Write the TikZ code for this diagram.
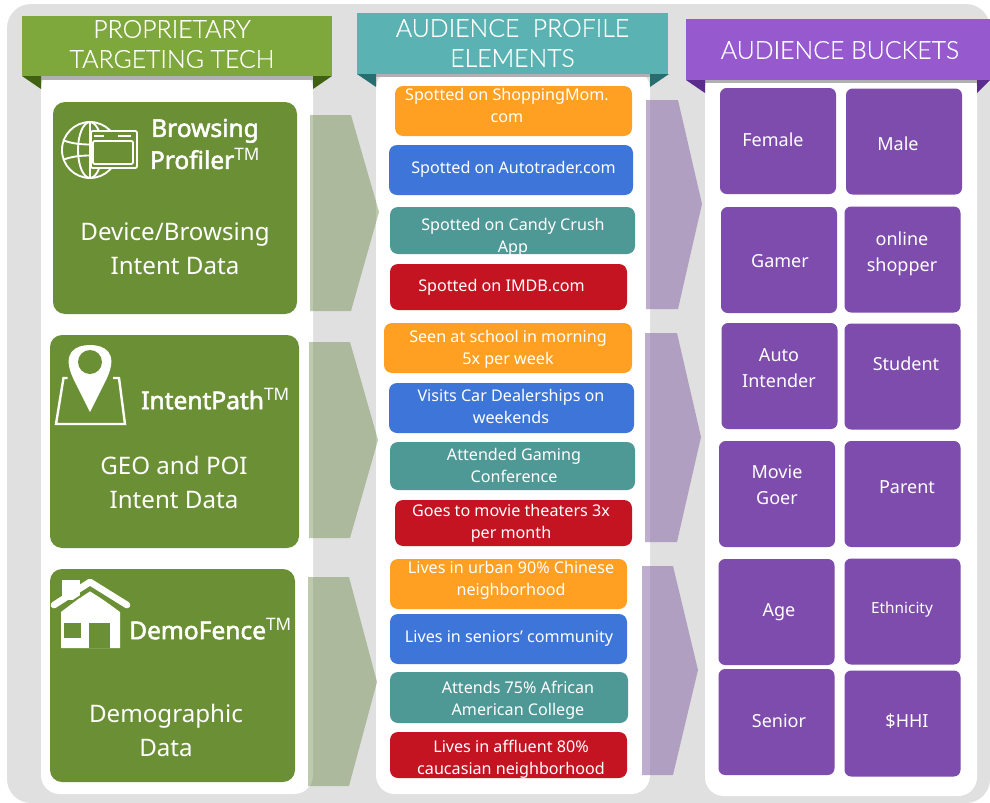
\documentclass[tikz,border=0pt]{standalone}
\usepackage{fontspec}
\setmainfont{Noto Sans}
\newfontfamily\headfont{Lato Light}[FakeBold=0.5]
\newfontfamily\namefont{Noto Sans}[FakeBold=2.2]
\definecolor{backgray}{HTML}{E0E0E0}
\definecolor{shadegray}{HTML}{B0B0B0}
\definecolor{greenhead}{HTML}{7EA83C}
\definecolor{greenfold}{HTML}{3F6212}
\definecolor{greenbox}{HTML}{6B8F35}
\definecolor{tealhead}{HTML}{5AB2B2}
\definecolor{tealfold}{HTML}{266E70}
\definecolor{purplehead}{HTML}{965ACE}
\definecolor{purplefold}{HTML}{5A2C8C}
\definecolor{bucketfill}{HTML}{7E4CAC}
\definecolor{orangefill}{HTML}{FFA023}
\definecolor{bluefill}{HTML}{3D76D8}
\definecolor{tealfill}{HTML}{4E9896}
\definecolor{redfill}{HTML}{C41422}
\definecolor{greenarrow}{HTML}{6F8A4C}
\definecolor{purplearrow}{HTML}{8B6AA8}
\tikzset{
  size/.style 2 args={minimum width=#1*0.75pt,minimum height=#2*0.75pt},
  plate/.style={inner sep=0pt,text=white,align=center},
  head/.style={plate,rectangle},
  headtext/.style={plate,font=\headfont\fontsize{18.6}{22.5}\selectfont},
  techbox/.style={plate,fill=greenbox,rounded corners=9pt},
  techname/.style={plate,font=\namefont\fontsize{18.4}{24}\selectfont},
  techtext/.style={plate,font=\fontsize{18.1}{25.5}\selectfont},
  elementbox/.style={plate,rounded corners=6pt},
  elementtext/.style={plate,font=\fontsize{12.1}{16.5}\selectfont},
  bucket/.style={plate,fill=bucketfill,rounded corners=5pt,size={116}{106}},
  buckettext/.style={plate,font=\fontsize{13.5}{19.5}\selectfont},
  icon/.style={draw=white,line width=1.4pt}
}
\begin{document}
\begin{tikzpicture}[x=0.75pt,y=-0.75pt]
\useasboundingbox (0,0) rectangle (990,803);
\fill[backgray,rounded corners=18pt] (7,4) rectangle (990,803);
% white columns
\fill[white,rounded corners=14pt] (41,70) rectangle (313,794);
\fill[white,rounded corners=14pt] (376,70) rectangle (650,794);
\fill[white,rounded corners=14pt] (705,70) rectangle (977,796);
% left column
\node[techbox,size={244}{212}] (browsebox) at (175,208) {};
\node[techbox,size={249}{213}] (pathbox) at (174.5,441.5) {};
\node[techbox,size={245}{213}] (fencebox) at (172.5,675.5) {};
\node[techname] (browsename) at (205,144) {Browsing\\Profiler\textsuperscript{\normalfont TM}};
\node[techtext] (browsetext) at (175,248.5) {Device/Browsing\\Intent Data};
\node[techname] (pathname) at (215.5,399) {IntentPath\textsuperscript{\normalfont TM}};
\node[techtext] (pathtext) at (174,482.5) {GEO and POI\\Intent Data};
\node[techname] (fencename) at (210.5,629) {DemoFence\textsuperscript{\normalfont TM}};
\node[techtext] (fencetext) at (166,730.5) {Demographic\\Data};
% globe and window
\draw[icon] (90,150) circle[radius=28];
\draw[icon] (90,150) ellipse[x radius=12,y radius=28];
\draw[icon] (90,122) -- (90,178);
\draw[icon] (63,140) .. controls (75,146) and (105,146) .. (117,140);
\draw[icon] (63,160) .. controls (75,154) and (105,154) .. (117,160);
\draw[icon,fill=greenbox,rounded corners=1pt] (91,131) rectangle (137,168);
\draw[icon,rounded corners=1pt] (93,141) rectangle (133,164);
\draw[icon,line width=1pt] (94,136) -- (104,136) (118,136) -- (131,136);
% pin and map
\draw[white,line width=1.8pt] (67.5,378) -- (63.5,378) -- (56,424) -- (125,424) -- (119,378) -- (113,378);
\fill[white] (90,412) -- (73,378) .. controls (61,352) and (76,345) .. (90,345) .. controls (104,345) and (119,352) .. (107,378) -- cycle;
\fill[greenbox] (90,362) circle[radius=12];
% house
\fill[white] (62,580) rectangle (80,600);
\fill[white] (61,612) -- (90,590) -- (120,612) -- (120,648) -- (61,648) -- cycle;
\draw[white,line width=5pt,line cap=round,line join=round] (54,605) -- (90,582) -- (127,605);
\draw[greenbox,line width=1.5pt] (90,590) -- (61,609);
\draw[greenbox,line width=1.5pt] (90,590) -- (120,609);
\fill[greenbox] (64,623) rectangle (81,638);
\fill[greenbox] (89,623) rectangle (110,648);
% arrows out of the left column
\fill[greenarrow,opacity=0.45] (310,115) -- (351,115) -- (379,212) -- (351,311) -- (310,311) -- cycle;
\fill[greenarrow,opacity=0.45] (309,342) -- (350,342) -- (378,440) -- (350,538) -- (309,538) -- cycle;
\fill[greenarrow,opacity=0.45] (308,577) -- (349,577) -- (377,682) -- (349,786) -- (308,786) -- cycle;
% middle column
\node[elementbox,fill=orangefill,size={237}{50}] (momfill) at (513.5,111) {};
\node[elementbox,fill=bluefill,size={244}{50}] (autofill) at (511,170) {};
\node[elementbox,fill=tealfill,size={245}{47}] (candyfill) at (512.5,230.5) {};
\node[elementbox,fill=redfill,size={237}{46}] (imdbfill) at (508.5,287) {};
\node[elementbox,fill=orangefill,size={248}{50}] (schoolfill) at (508,348) {};
\node[elementbox,fill=bluefill,size={245}{50}] (dealerfill) at (511.5,408) {};
\node[elementbox,fill=tealfill,size={245}{48}] (gamingfill) at (512.5,466) {};
\node[elementbox,fill=redfill,size={237}{46}] (moviefill) at (513.5,523) {};
\node[elementbox,fill=orangefill,size={237}{50}] (urbanfill) at (508.5,584) {};
\node[elementbox,fill=bluefill,size={237}{50}] (seniorsfill) at (508.5,639) {};
\node[elementbox,fill=tealfill,size={238}{51}] (collegefill) at (509,697.5) {};
\node[elementbox,fill=redfill,size={237}{46}] (affluentfill) at (508.5,755) {};
\node[elementtext] (mom) at (507,105) {Spotted on ShoppingMom.\\com};
\node[elementtext] (auto) at (513.5,169.5) {Spotted on Autotrader.com};
\node[elementtext] (candy) at (513,237) {Spotted on Candy Crush\\App};
\node[elementtext] (imdb) at (501.5,287.5) {Spotted on IMDB.com};
\node[elementtext] (school) at (508,349.5) {Seen at school in morning\\5x per week};
\node[elementtext] (dealer) at (511,406) {Visits Car Dealerships on\\weekends};
\node[elementtext] (gaming) at (514,465) {Attended Gaming\\Conference};
\node[elementtext] (movie) at (511,523) {Goes to movie theaters 3x\\per month};
\node[elementtext] (urban) at (511,580) {Lives in urban 90\% Chinese\\neighborhood};
\node[elementtext] (seniors) at (509,638.5) {Lives in seniors’ community};
\node[elementtext] (college) at (518,700) {Attends 75\% African\\American College};
\node[elementtext] (affluent) at (511,759) {Lives in affluent 80\%\\caucasian neighborhood};
% arrows out of the middle column
\fill[purplearrow,opacity=0.55] (646,100) -- (678,100) -- (702,204) -- (678,309) -- (646,309) -- cycle;
\fill[purplearrow,opacity=0.55] (645,333) -- (677,333) -- (701,437) -- (677,542) -- (645,542) -- cycle;
\fill[purplearrow,opacity=0.55] (642,566) -- (673,566) -- (698,670) -- (673,775) -- (642,775) -- cycle;
% right column
\node[bucket] (femalefill) at (778,141) {};
\node[bucket] (malefill) at (904,141.5) {};
\node[bucket] (gamerfill) at (779,260) {};
\node[bucket] (shopperfill) at (902.5,259.5) {};
\node[bucket] (autofill2) at (779.5,376) {};
\node[bucket] (studentfill) at (902.5,376.5) {};
\node[bucket] (goerfill) at (777,494) {};
\node[bucket] (parentfill) at (902.5,494) {};
\node[bucket] (agefill) at (776.5,612) {};
\node[bucket] (ethnicfill) at (902.5,611.5) {};
\node[bucket] (seniorfill) at (776.5,722) {};
\node[bucket] (hhifill) at (902.5,723.5) {};
\node[buckettext] (female) at (773,140) {Female};
\node[buckettext] (male) at (898,143.5) {Male};
\node[buckettext] (gamer) at (780,261) {Gamer};
\node[buckettext] (shopper) at (902,254) {online\\shopper};
\node[buckettext] (intender) at (779,368) {Auto\\Intender};
\node[buckettext] (student) at (906,364) {Student};
\node[buckettext] (goer) at (777,485) {Movie\\Goer};
\node[buckettext] (parent) at (907,487) {Parent};
\node[buckettext] (age) at (779,612) {Age};
\node[buckettext,font=\fontsize{11.5}{16.5}\selectfont] (ethnic) at (902,610) {Ethnicity};
\node[buckettext] (senior) at (779,721) {Senior};
\node[buckettext] (hhi) at (907,721) {\$HHI};
% ribbon heads
\fill[shadegray] (41,76) rectangle (313,80);
\fill[greenfold] (22,76) -- (41,76) -- (41,89) -- cycle;
\fill[greenfold] (332,76) -- (313,76) -- (313,89) -- cycle;
\node[head,fill=greenhead,size={310}{60}] (techhead) at (177,46) {};
\node[headtext] (techlabel) at (172,44) {PROPRIETARY\\TARGETING TECH};
\fill[shadegray] (376,74) rectangle (650,77);
\fill[tealfold] (357,74) -- (376,74) -- (376,87) -- cycle;
\fill[tealfold] (669,74) -- (650,74) -- (650,87) -- cycle;
\node[head,fill=tealhead,size={311}{61}] (elementhead) at (512.5,43.5) {};
\node[headtext] (elementlabel) at (512.5,43) {AUDIENCE~ PROFILE\\ELEMENTS};
\fill[shadegray] (705,80) rectangle (977,83);
\fill[purplefold] (686,80) -- (705,80) -- (705,93) -- cycle;
\fill[purplefold] (990,80) -- (977,80) -- (977,93) -- cycle;
\node[head,fill=purplehead,size={304}{61}] (buckethead) at (838,49.5) {};
\node[headtext] (bucketlabel) at (840,50) {AUDIENCE BUCKETS};
\end{tikzpicture}
\end{document}
